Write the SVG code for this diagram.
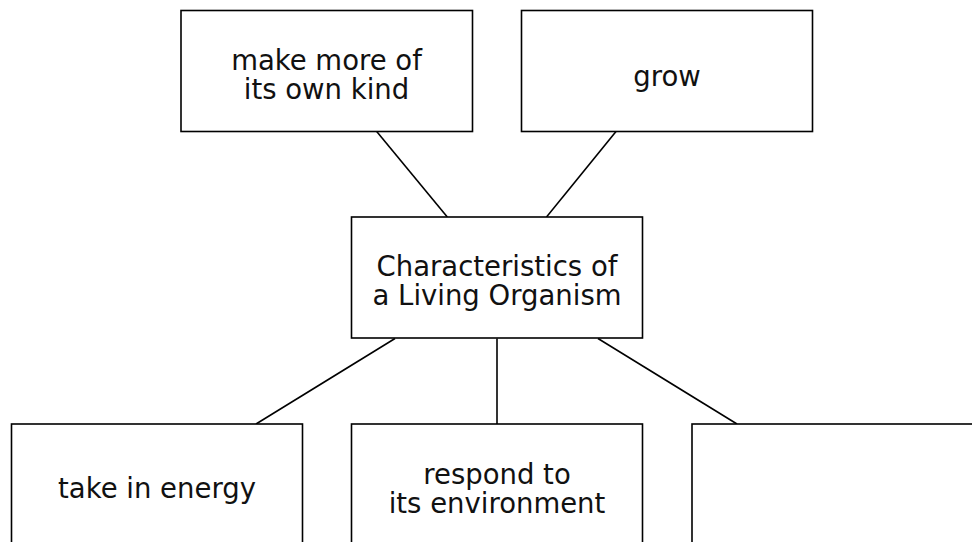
<svg xmlns="http://www.w3.org/2000/svg" width="972" height="542" viewBox="0 0 972 542">
<style>
rect.box{fill:#fff;stroke:#000;stroke-width:1.6}
.conn line{stroke:#000;stroke-width:1.6}
text{font-family:"DejaVu Sans","Verdana",sans-serif;font-size:27.5px;fill:#111;text-anchor:middle}
</style>
<rect width="972" height="542" fill="#fff"/>
<g class="conn" id="connectors">
<line x1="376.7" y1="131.5" x2="447.3" y2="217"/>
<line x1="616" y1="131.5" x2="546.5" y2="217"/>
<line x1="395" y1="338.5" x2="256" y2="424"/>
<line x1="497" y1="338.5" x2="497" y2="424"/>
<line x1="598" y1="338.5" x2="737" y2="424"/>
</g>
<g id="node-reproduce">
<rect class="box" x="181" y="10.5" width="291.5" height="121"/>
<text x="326.5" y="70">make more of</text>
<text x="326.5" y="99">its own kind</text>
</g>
<g id="node-grow">
<rect class="box" x="521.5" y="10.5" width="291" height="121"/>
<text x="667" y="86">grow</text>
</g>
<g id="node-center">
<rect class="box" x="351.5" y="217" width="291" height="121"/>
<text x="497" y="276">Characteristics of</text>
<text x="497" y="305">a Living Organism</text>
</g>
<g id="node-energy">
<rect class="box" x="11.5" y="424" width="291" height="130"/>
<text x="157" y="498">take in energy</text>
</g>
<g id="node-respond">
<rect class="box" x="351.5" y="424" width="291" height="130"/>
<text x="497" y="484">respond to</text>
<text x="497" y="513">its environment</text>
</g>
<g id="node-blank">
<rect class="box" x="692" y="424" width="291" height="130"/>
</g>
</svg>
